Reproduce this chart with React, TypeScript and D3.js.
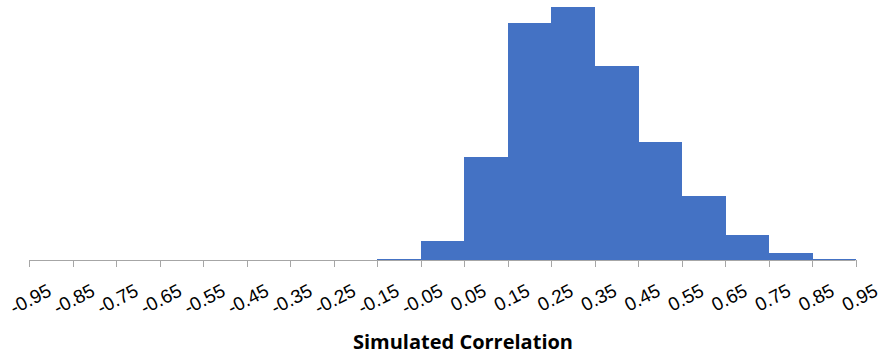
import React from "react";
import * as d3 from "d3";

const categories = [
  "-0.95", "-0.85", "-0.75", "-0.65", "-0.55", "-0.45", "-0.35", "-0.25", "-0.15", "-0.05",
  "0.05", "0.15", "0.25", "0.35", "0.45", "0.55", "0.65", "0.75", "0.85", "0.95",
];
const counts = [0, 0, 0, 0, 0, 0, 0, 0, 10, 186, 1006, 2318, 2475, 1900, 1153, 627, 245, 69, 10, 0];
const xTitle = "Simulated Correlation";

const W = 892;
const H = 357;
const left = 29;
const step = 43.5;
const axisY = 260;

export default function App() {
  const x = d3
    .scaleBand<string>()
    .domain(categories)
    .range([left, left + step * categories.length])
    .paddingInner(0)
    .paddingOuter(0);
  const y = d3.scaleLinear().domain([0, 2546]).range([axisY, 0]);
  const axisEnd = x(categories[categories.length - 1])!;

  return (
    <svg
      width={W}
      height={H}
      style={{ position: "absolute", left: 0, top: 0, background: "#fff" }}
    >
      <g shapeRendering="crispEdges">
        {categories.map((c, i) =>
          counts[i] > 0 ? (
            <rect
              key={c}
              x={x(c)}
              y={y(counts[i])}
              width={x.bandwidth() + 0.5}
              height={axisY - y(counts[i])}
              fill="#4472C4"
            />
          ) : null
        )}
      </g>
      <line x1={left} x2={axisEnd} y1={axisY + 0.5} y2={axisY + 0.5} stroke="#A6A6A6" strokeWidth={1} />
      {categories.map((c) => {
        const tx = Math.round(x(c)!) + 0.5;
        return <line key={"t" + c} x1={tx} x2={tx} y1={axisY} y2={axisY + 7} stroke="#A6A6A6" strokeWidth={1} />;
      })}
      {categories.map((c) => {
        const cx = x(c)! + x.bandwidth() / 2 + 2;
        return (
          <text
            key={"l" + c}
            transform={`translate(${cx},${295}) rotate(-27)`}
            textAnchor="end"
            fontFamily="Liberation Sans, Arial, sans-serif"
            fontSize={19}
            fill="#000"
          >
            {c}
          </text>
        );
      })}
      <text
        x={463}
        y={349}
        textAnchor="middle"
        fontFamily="Open Sans, sans-serif"
        fontWeight={700}
        fontSize={20}
        fill="#000"
      >
        {xTitle}
      </text>
    </svg>
  );
}
